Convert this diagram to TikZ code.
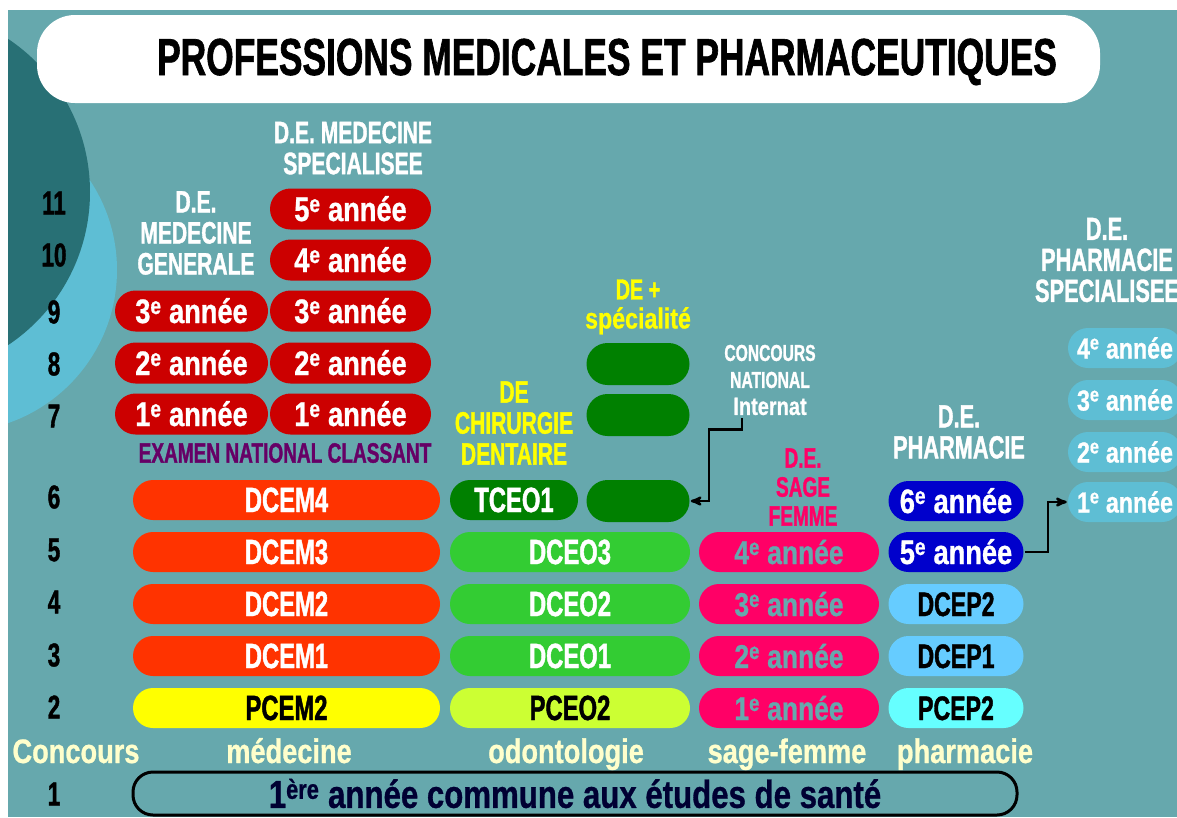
\documentclass[tikz,border=0pt]{standalone}
\usepackage{fontspec}
\newfontfamily\impact{Liberation Sans}[FakeStretch=0.68,FakeBold=1.2]
\newfontfamily\impactw{Liberation Sans}[FakeStretch=0.8,FakeBold=0.8]
\usetikzlibrary{%
  arrows,%
  shapes.misc,% wg. rounded rectangle
  positioning%
}
\definecolor{bgteal}{RGB}{102,168,173}
\definecolor{dkcirc}{RGB}{40,112,117}
\definecolor{ltcirc}{RGB}{94,190,212}
\definecolor{dkred}{RGB}{204,0,0}
\definecolor{orred}{RGB}{255,51,0}
\definecolor{ylw}{RGB}{255,255,0}
\definecolor{ygreen}{RGB}{204,255,51}
\definecolor{green}{RGB}{51,204,51}
\definecolor{dkgreen}{RGB}{0,128,0}
\definecolor{pink}{RGB}{255,0,102}
\definecolor{navy}{RGB}{0,0,204}
\definecolor{skyblue}{RGB}{102,204,255}
\definecolor{cyanb}{RGB}{102,255,255}
\definecolor{cream}{RGB}{255,255,204}
\definecolor{purple}{RGB}{102,0,102}
\definecolor{ink}{RGB}{0,0,51}
\newcommand\fsz[2]{\fontsize{#1}{#2}\selectfont}

\begin{document}
\begin{tikzpicture}[
  x=1pt, y=-1pt, >=stealth', line width=2.5pt,
  pill/.style={rounded rectangle, minimum height=41pt, inner sep=0pt, text height=24pt, text depth=0pt, font=\impactw\bfseries\fsz{34}{34}},
  mgyear/.style={pill, minimum width=153pt, fill=dkred, text=white},
  msyear/.style={pill, minimum width=161pt, fill=dkred, text=white},
  medbar/.style={pill, minimum width=307pt, minimum height=40pt, fill=orred, text=white, font=\impact\bfseries\fsz{35}{35}},
  odobar/.style={pill, minimum width=240pt, minimum height=40pt, fill=green, text=white, font=\impact\bfseries\fsz{35}{35}},
  spebox/.style={pill, minimum width=103pt, minimum height=42pt, fill=dkgreen},
  sfyear/.style={pill, minimum width=180pt, minimum height=40pt, fill=pink, text=bgteal, font=\impactw\bfseries\fsz{33}{33}},
  phyear/.style={pill, minimum width=135pt, minimum height=40pt, fill=navy, text=white},
  phbar/.style={pill, minimum width=135pt, minimum height=40pt, fill=skyblue, text=black, font=\impact\bfseries\fsz{34}{34}},
  psyear/.style={pill, minimum width=114pt, minimum height=40pt, fill=ltcirc, text=white, text height=21pt, font=\impactw\bfseries\fsz{29}{29}},
  head/.style={align=center, inner sep=2pt, text=white, font=\impact\bfseries\fsz{31}{31}},
  rownum/.style={text=black, font=\impact\bfseries\fsz{33}{33}},
  footlabel/.style={anchor=base, text=cream, font=\impactw\bfseries\fsz{34}{34}},
  arrowline/.style={->, line width=2.5pt, black}
]
\useasboundingbox (0,0) rectangle (1177,817);
\fill[white] (0,0) rectangle (1177,817);

\begin{scope}
\clip (8,10) rectangle (1177,817);
\fill[bgteal] (8,10) rectangle (1177,817);
\fill[ltcirc] (-45,270) circle (162pt);
\fill[dkcirc] (-94,192) circle (184pt);

% title
\node[rectangle, rounded corners=38pt, fill=white, minimum width=1063pt, minimum height=88pt] (titlebox) at (568.5,59) {};
\node[anchor=base, font=\impact\bfseries\fsz{52}{52}] (title) at (607,75) {PROFESSIONS MEDICALES ET PHARMACEUTIQUES};

% annees
\foreach \n/\y in {11/203,10/255,9/312,8/364,7/416,6/497,5/550,4/602,3/655,2/707,1/794}
  \node[rownum] (r\n) at (54,\y) {\n};

% medecine
\node[head] (mshead) at (353,148) {D.E. MEDECINE\\SPECIALISEE};
\node[head] (mghead) at (196,233) {D.E.\\MEDECINE\\GENERALE};
\foreach \n/\y in {5/209,4/260,3/311,2/363,1/414}
  \node[msyear] (ms\n) at (350.5,\y) {\n\textsuperscript{e} année};
\foreach \n/\y in {3/311,2/363,1/414}
  \node[mgyear] (mg\n) at (191.5,\y) {\n\textsuperscript{e} année};
\node[text=purple, font=\impact\bfseries\fsz{28}{28}] (ecn) at (285,453) {EXAMEN NATIONAL CLASSANT};
\foreach \n/\t/\y in {6/DCEM4/500,5/DCEM3/552,4/DCEM2/604,3/DCEM1/656}
  \node[medbar] (med\n) at (286.5,\y) {\t};
\node[medbar, fill=ylw, text=black] (med2) at (286.5,708) {PCEM2};

% odontologie
\node[head, text=ylw, font=\impactw\bfseries\fsz{29}{29}] (spehead) at (638,307) {{\impact DE +}\\spécialité};
\node[head, text=ylw] (odohead) at (514,423) {DE\\CHIRURGIE\\DENTAIRE};
\foreach \n/\y in {8/364,7/415,6/501}
  \node[spebox] (sp\n) at (638,\y) {};
\node[odobar, minimum width=128pt, fill=dkgreen] (od6) at (514,500) {TCEO1};
\foreach \n/\t/\y in {5/DCEO3/552,4/DCEO2/604,3/DCEO1/656}
  \node[odobar] (od\n) at (570,\y) {\t};
\node[odobar, fill=ygreen, text=black] (od2) at (570,708) {PCEO2};
\node[head, font=\impact\bfseries\fsz{23}{27}] (concnat) at (770,380) {CONCOURS\\NATIONAL\\{\impactw\fsz{25}{27}Internat}};

% sage-femme
\node[head, text=pink, font=\impact\bfseries\fsz{28}{29}] (sfhead) at (803,487) {D.E.\\SAGE\\FEMME};
\foreach \n/\y in {4/552,3/604,2/656,1/708}
  \node[sfyear] (sf\n) at (789,\y) {\n\textsuperscript{e} année};

% pharmacie
\node[head, font=\impact\bfseries\fsz{32}{31}] (phhead) at (959,432) {D.E.\\PHARMACIE};
\node[phyear] (ph6) at (956,501) {6\textsuperscript{e} année};
\node[phyear] (ph5) at (956,552) {5\textsuperscript{e} année};
\node[phbar] (ph4) at (956,604) {DCEP2};
\node[phbar] (ph3) at (956,656) {DCEP1};
\node[phbar, fill=cyanb] (ph2) at (956,708) {PCEP2};
\node[head, font=\impact\bfseries\fsz{32}{31}] (pshead) at (1107,260) {D.E.\\PHARMACIE\\SPECIALISEE};
\foreach \n/\y in {4/348,3/400,2/452,1/502}
  \node[psyear] (ps\n) at (1125,\y) {\n\textsuperscript{e} année};

% concours
\node[footlabel] (fconc) at (76,763) {Concours};
\node[footlabel] (fmed) at (289,763) {médecine};
\node[footlabel] (fodo) at (566,763) {odontologie};
\node[footlabel] (fsf) at (787,763) {sage-femme};
\node[footlabel] (fph) at (965,763) {pharmacie};
\node[rectangle, rounded corners=20pt, draw=black, line width=3pt, minimum width=884pt, minimum height=43pt, inner sep=0pt, text=ink, font=\impactw\bfseries\fsz{39}{39}] (paces) at (575,793.5) {1\textsuperscript{ère} année commune aux études de santé};

\draw[arrowline] ([xshift=-28pt]concnat.south) -- ++(0,11) -| ([xshift=18pt]sp6.east) -- (sp6.east);
\draw[arrowline] (ph5.east) -- ++(23,0) |- (ps1.west);
\end{scope}
\end{tikzpicture}
\end{document}
